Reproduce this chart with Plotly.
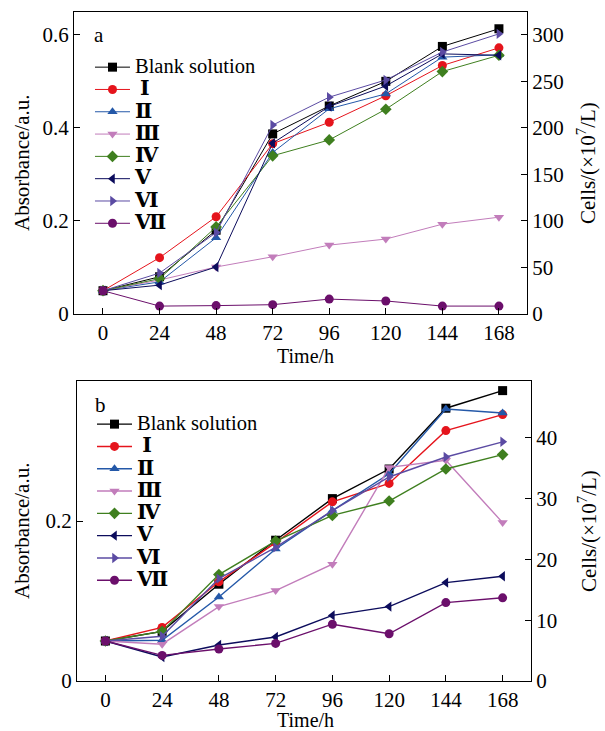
import plotly.graph_objects as go

# ---------------- data ----------------
time_h = [0, 24, 48, 72, 96, 120, 144, 168]
series_names = ["Blank solution", " Ⅰ", "Ⅱ", "Ⅲ", "Ⅳ", "Ⅴ", "Ⅵ", "Ⅶ"]

# panel a (absorbance, a.u.)
a_blank = [0.050, 0.080, 0.180, 0.387, 0.447, 0.500, 0.575, 0.613]
a_I     = [0.050, 0.121, 0.209, 0.366, 0.412, 0.469, 0.534, 0.572]
a_II    = [0.050, 0.069, 0.164, 0.347, 0.441, 0.473, 0.552, 0.557]
a_III   = [0.050, 0.073, 0.101, 0.123, 0.148, 0.161, 0.193, 0.208]
a_IV    = [0.050, 0.076, 0.187, 0.340, 0.374, 0.440, 0.521, 0.556]
a_V     = [0.050, 0.062, 0.101, 0.367, 0.446, 0.490, 0.559, 0.556]
a_VI    = [0.050, 0.088, 0.175, 0.406, 0.466, 0.503, 0.563, 0.602]
a_VII   = [0.050, 0.017, 0.018, 0.020, 0.032, 0.028, 0.017, 0.017]

# panel b (absorbance, a.u.)
b_blank = [0.050, 0.062, 0.121, 0.176, 0.228, 0.265, 0.341, 0.363]
b_I     = [0.050, 0.067, 0.124, 0.173, 0.224, 0.247, 0.313, 0.333]
b_II    = [0.050, 0.051, 0.105, 0.165, 0.213, 0.259, 0.340, 0.335]
b_III   = [0.050, 0.046, 0.093, 0.113, 0.146, 0.267, 0.276, 0.198]
b_IV    = [0.050, 0.062, 0.133, 0.175, 0.207, 0.225, 0.265, 0.283]
b_V     = [0.050, 0.030, 0.045, 0.055, 0.082, 0.093, 0.123, 0.131]
b_VI    = [0.050, 0.056, 0.128, 0.167, 0.213, 0.255, 0.280, 0.299]
b_VII   = [0.050, 0.032, 0.040, 0.047, 0.071, 0.059, 0.098, 0.104]

x_ticks = [0, 24, 48, 72, 96, 120, 144, 168]
a_left_ticks = [0, 0.2, 0.4, 0.6]
a_right_ticks = [0, 50, 100, 150, 200, 250, 300]
b_left_ticks = [0, 0.2]
b_right_ticks = [0, 10, 20, 30, 40]

colors = ["#000000", "#e5141c", "#2458a8", "#c27dbb", "#3f7f1f", "#0c0c5c", "#5b4ba3", "#6b0f6b"]
symbols = ["square", "circle", "triangle-up", "triangle-down", "diamond",
           "triangle-left", "triangle-right", "circle"]

a_data = [a_blank, a_I, a_II, a_III, a_IV, a_V, a_VI, a_VII]
b_data = [b_blank, b_I, b_II, b_III, b_IV, b_V, b_VI, b_VII]

FONT = "Liberation Serif, Times New Roman, DejaVu Serif, serif"
FS = 21


def legend_label(name):
    if name.startswith("Blank"):
        return '<span style="font-size:20.5px">' + name + '</span>'
    return '<span style="font-size:20.5px"><b>' + name + '</b></span>'


fig = go.Figure()

for i, (name, ys) in enumerate(zip(series_names, a_data)):
    fig.add_trace(go.Scatter(
        x=time_h, y=ys, name=legend_label(name),
        mode="lines+markers", xaxis="x", yaxis="y",
        line=dict(color=colors[i], width=1),
        marker=dict(symbol=symbols[i], size=9, color=colors[i]),
        legend="legend",
    ))

for i, (name, ys) in enumerate(zip(series_names, b_data)):
    fig.add_trace(go.Scatter(
        x=time_h, y=ys, name=legend_label(name),
        mode="lines+markers", xaxis="x2", yaxis="y3",
        line=dict(color=colors[i], width=1.4),
        marker=dict(symbol=symbols[i], size=9, color=colors[i]),
        legend="legend2",
    ))

# empty traces so the right-hand (cells) axes are drawn
fig.add_trace(go.Scatter(x=[None], y=[None], xaxis="x", yaxis="y2",
                         showlegend=False, hoverinfo="skip"))
fig.add_trace(go.Scatter(x=[None], y=[None], xaxis="x2", yaxis="y4",
                         showlegend=False, hoverinfo="skip"))

axis_common = dict(
    showline=True, linecolor="black", linewidth=1.3, showgrid=False, zeroline=False,
    ticks="inside", ticklen=6, tickwidth=1.3, tickcolor="black",
    tickfont=dict(family=FONT, size=FS, color="black"),
)

fig.update_layout(
    width=605, height=731,
    margin=dict(l=74, r=74, t=12, b=50),
    paper_bgcolor="white", plot_bgcolor="white",
    font=dict(family=FONT, size=FS, color="black"),
    xaxis=dict(domain=[0, 0.9912], range=[-12.3, 179.9], anchor="y",
               tickvals=x_ticks, mirror=True, **axis_common),
    yaxis=dict(domain=[0.5486, 1.0], range=[0, 0.649], anchor="x",
               tickvals=a_left_ticks, ticktext=["0", "0.2", "0.4", "0.6"], **axis_common),
    yaxis2=dict(range=[0, 324.5], overlaying="y", side="right", anchor="x",
                tickvals=a_right_ticks, **axis_common),
    xaxis2=dict(domain=[0.0066, 1.0], range=[-12.0, 180.0], anchor="y3",
                tickvals=x_ticks, mirror=True, **axis_common),
    yaxis3=dict(domain=[0, 0.4484], range=[0, 0.375], anchor="x2",
                tickvals=b_left_ticks, ticktext=["0", "0.2"], **axis_common),
    yaxis4=dict(range=[0, 49.3], overlaying="y3", side="right", anchor="x2",
                tickvals=b_right_ticks, **axis_common),
    legend=dict(x=0.035, y=0.9417, xanchor="left", yanchor="top",
                bgcolor="rgba(0,0,0,0)", borderwidth=0,
                font=dict(family=FONT, size=14.85, color="black"),
                tracegroupgap=0, itemwidth=35),
    legend2=dict(x=0.0394, y=0.4081, xanchor="left", yanchor="top",
                 bgcolor="rgba(0,0,0,0)", borderwidth=0,
                 font=dict(family=FONT, size=14.85, color="black"),
                 tracegroupgap=0, itemwidth=35),
    showlegend=True,
)

ann = [
    dict(text="a", x=0.0547, y=0.9656, size=FS),
    dict(text="b", x=0.0569, y=0.4126, size=FS),
    dict(text="Time/h", x=0.5055, y=0.4855, size=20),
    dict(text="Time/h", x=0.5055, y=-0.0585, size=20),
    dict(text="Absorbance/a.u.", x=-0.1138, y=0.7743, textangle=-90, size=FS),
    dict(text="Absorbance/a.u.", x=-0.1138, y=0.2242, textangle=-90, size=FS),
    dict(text="Cells/(×10<sup>7</sup>/L)", x=1.1225, y=0.7743, textangle=-90, size=FS),
    dict(text="Cells/(×10<sup>7</sup>/L)", x=1.1225, y=0.2242, textangle=-90, size=FS),
]
for a in ann:
    size = a.pop("size")
    fig.add_annotation(xref="paper", yref="paper", xanchor="center", yanchor="middle",
                       showarrow=False, font=dict(family=FONT, size=size, color="black"), **a)

fig.write_html("out.html")
